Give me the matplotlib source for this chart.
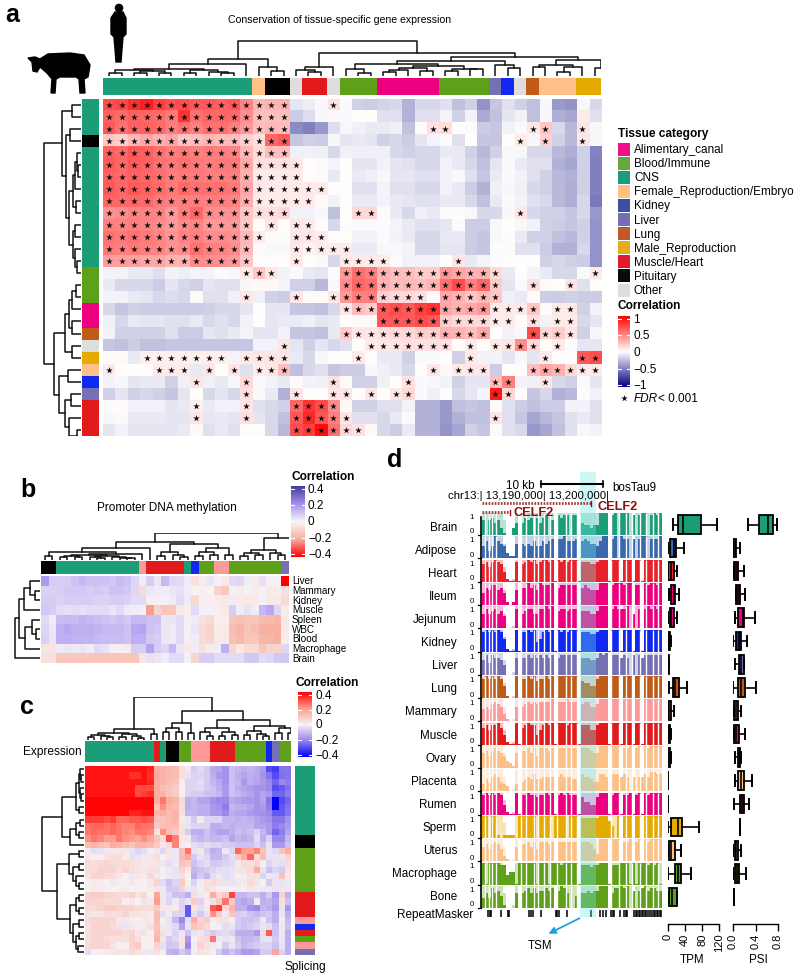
import numpy as np
import matplotlib
matplotlib.use('Agg')
import matplotlib.pyplot as plt
from matplotlib.colors import LinearSegmentedColormap
from matplotlib.patches import Circle, Polygon, Rectangle

plt.rcParams['font.family'] = ['Liberation Sans', 'DejaVu Sans']

W, H = 800, 979

# tissue colours
CNS, BLOOD, PINK, FEM, KID, LIV, LUNG, MALE, MUS, PIT, OTH, MAM = (
    '#1b9e77', '#5fa01a', '#ec0080', '#fdc086', '#1028f0', '#7570b3',
    '#bf5b17', '#e6ab02', '#e31a1c', '#000000', '#dedede', '#fb9a99')

# ---- panel a data (correlation x 100)
a_values = [
 [70,72,82,88,75,68,70,65,65,62,65,48,28,30,30,-10,-7,-3,12,-2,-18,-20,-17,-15,-30,-15,-15,-12,-25,-18,-42,-22,-12,-18,-25,-3,-40,-42,-3,-15],
 [62,58,62,60,58,52,80,55,60,60,58,45,25,25,25,-20,-13,-3,3,-2,1,1,-12,-12,-30,-12,-12,-4,-18,-5,-33,-25,-10,-5,-25,-3,-32,-35,8,-12],
 [65,55,62,62,58,50,55,50,55,55,50,40,25,28,25,-45,-50,-40,-13,-3,-6,-8,-8,-6,-25,2,12,14,1,2,-20,-22,-5,-2,10,22,-15,-28,10,-3],
 [22,18,28,35,30,35,22,25,30,25,25,18,12,60,65,-22,-18,-20,-3,-10,-8,-10,-18,-15,-20,-10,-4,2,-12,1,-22,-22,1,8,-3,18,-18,-28,10,-3],
 [62,58,65,62,55,50,52,50,52,50,48,28,15,25,25,-6,-6,-6,-15,-6,-6,-6,-6,-15,-18,-15,-15,-8,-8,-18,-28,-18,-3,-3,-15,-15,-28,-32,-18,-48],
 [65,60,65,62,55,52,55,52,50,52,52,35,12,12,12,10,1,2,-4,1,-10,-10,-5,-10,-12,-15,-15,-5,-8,-15,-25,-10,-2,-8,-12,-12,-30,-35,-18,-50],
 [62,58,62,60,55,50,52,52,50,50,50,32,8,8,8,8,1,2,-8,1,-8,-6,-3,-10,-10,-12,-12,-5,-3,-12,-22,-8,-2,-5,-12,-18,-28,-30,-18,-50],
 [65,60,65,62,58,52,58,55,55,55,52,35,10,8,8,8,8,8,1,1,-12,-12,-4,-12,-12,-15,-15,-5,-8,-20,-30,-6,-3,-6,-15,-18,-28,-32,-18,-50],
 [60,58,60,58,52,50,50,50,50,50,48,32,8,8,8,8,8,2,-5,1,-8,-8,-5,-8,-10,-12,-12,-8,-8,-15,-25,-8,-2,-5,-12,-15,-28,-32,-15,-52],
 [42,45,48,48,48,40,50,60,45,42,42,22,12,12,15,-5,-5,-3,-25,1,15,15,2,-8,-15,-6,-8,-1,-1,-3,-15,-15,-3,10,-15,-18,-18,-22,-15,-40],
 [50,48,50,48,45,40,45,48,40,40,40,22,1,10,1,10,8,-1,-15,-1,-2,-2,-1,-4,-8,-12,-12,-10,-2,-20,-20,-3,1,-3,-5,-18,-20,-22,-18,-42],
 [55,52,55,52,48,42,48,50,45,45,42,28,8,2,-1,10,10,8,1,1,-5,-5,-2,-5,-8,-15,-15,-8,-8,-20,-22,-3,-1,-8,-18,-18,-25,-28,-18,-42],
 [52,50,52,50,48,42,45,55,50,48,45,28,2,-3,-3,8,5,8,8,8,-8,-8,-3,-3,-4,-15,-15,-10,-10,-20,-22,-1,2,-12,-12,-20,-30,-30,-15,-42],
 [38,38,38,35,35,30,30,45,45,42,40,22,1,1,1,8,1,-2,-15,8,8,8,8,-1,-5,-5,-5,1,10,-8,-4,-1,1,1,1,-18,-15,-18,-20,-42],
 [-5,-5,-8,-8,-13,-5,-7,-4,-4,-2,-3,8,22,10,-5,-2,-8,-10,-1,40,55,50,30,25,25,20,20,40,35,30,30,15,-8,1,-4,-8,-15,-15,-2,8],
 [-8,-15,-15,-15,-20,-10,-15,-18,-10,-12,-12,-3,3,3,-4,-18,-18,-28,-2,45,60,55,30,25,28,25,30,55,70,50,60,20,-10,-2,12,2,1,10,-12,1],
 [-5,-5,-8,-10,-15,-13,-15,2,-12,-12,-6,10,-6,-18,-20,10,2,2,10,40,50,50,18,15,15,12,2,35,30,22,28,22,-6,-8,2,-20,-20,-18,-20,-20],
 [-15,-22,-18,-20,-20,-20,-20,-20,-18,-15,-15,-10,1,-10,-10,-22,-22,-25,-15,10,25,20,65,70,65,75,80,35,30,35,40,8,8,8,22,2,8,8,-18,-5],
 [-6,-15,-8,-10,-10,-12,-12,-8,-15,-12,-15,-5,1,-10,-8,-8,-6,-10,-8,1,2,2,65,65,65,70,65,20,15,15,15,8,8,1,12,-5,8,8,-15,-10],
 [-5,-18,-18,-18,-18,-12,-20,-20,-10,-12,-8,-4,-10,-10,-5,-22,-22,-25,-8,20,10,10,12,15,15,20,18,30,30,25,35,1,-5,-3,70,15,20,10,-18,-3],
 [-22,-25,-20,-25,-25,-22,-22,-22,-22,-22,-22,-22,-4,-4,10,-10,-18,-10,-15,-12,1,8,10,10,12,12,12,12,1,8,1,8,10,45,15,1,8,-1,-10,-10],
 [2,2,-8,6,6,6,6,6,6,6,-4,8,10,10,10,-8,-15,-3,1,1,8,1,-8,-8,-18,-2,-2,1,-18,8,-5,-5,-10,-3,-10,8,1,1,65,70],
 [8,1,1,1,8,8,8,-8,10,1,10,-12,8,10,25,-25,-15,-12,-22,-20,-20,-3,-6,-8,-15,1,10,3,8,10,10,-20,1,1,25,35,30,15,8,8],
 [-5,-3,-10,-8,-8,-18,-6,10,-6,-8,-3,15,-2,-5,-8,2,-5,-6,12,2,-18,-18,-6,1,12,-2,-3,-5,-18,-10,-10,25,50,-5,-6,10,-15,-18,-2,-10],
 [-18,-10,-18,-15,-18,-22,-10,1,-15,-10,-15,12,-2,-8,-30,10,1,1,10,10,1,10,1,10,15,-2,-6,1,-15,-10,-4,90,15,1,-22,-15,-30,-28,-1,-5],
 [-1,2,-5,-5,-5,-10,-8,6,-8,-5,-5,10,-12,-15,-18,60,80,70,45,3,-18,-18,-12,-12,-5,-30,-30,-40,-25,-22,-25,2,-12,-20,-25,-20,-20,-5,-5,-12],
 [-3,-2,-8,-8,-8,-10,-10,10,-10,-8,-10,12,-10,-15,-25,65,85,65,50,10,-12,-12,-15,-8,-2,-30,-30,-40,-30,-25,-25,10,-12,-22,-35,-28,-22,-12,-8,-12],
 [-10,-5,-10,-10,-10,-10,-8,3,-12,-8,-12,1,1,-15,-28,70,75,95,55,15,12,3,-15,-20,-8,-30,-30,-42,-35,-18,-22,2,-12,-15,-40,-35,-25,-12,-3,-5],
]
# columns with a star in each row (1-based)
a_stars = [
 [*range(1,16),19], [*range(1,16)], [*range(1,16),27,28,35,36,39], [*range(1,16),34,36,39],
 [*range(1,16)], [*range(1,17)], [*range(1,17)], [*range(1,19)], [*range(1,18)],
 [*range(1,16),21,22,34], [*range(1,13),14,16,17], [*range(1,14),16,17,18],
 [*range(1,13),16,17,18,19,20], [*range(1,13),16,20,21,22,23,29],
 [12,13,14,*range(20,33),40], [*range(20,33),35,38], [12,16,19,*range(20,27),*range(28,33)],
 [*range(20,36),37,38], [*range(23,34),35,37,38], [*range(20,32),35,36,37,38],
 [15,*range(22,29),30,32,33,34,35,37], [*range(4,11),12,13,14,15,21,30,36,39,40],
 [1,5,6,7,9,11,13,14,15,27,29,30,31,*range(35,41)], [8,12,19,25,32,33,36],
 [12,16,19,20,22,24,25,32,33], [8,12,16,17,18,19], [8,12,16,17,18,19,20,32], [16,17,18,19,20,21],
]
a_col_colors = [CNS]*12 + [FEM] + [PIT]*2 + [OTH] + [MUS]*2 + [OTH] + [BLOOD]*3 + [PINK]*5 + [BLOOD]*4 + \
    [LIV, KID, OTH, LUNG] + [FEM]*3 + [MALE]*2
a_row_colors = [CNS]*3 + [PIT] + [CNS]*10 + [BLOOD]*3 + [PINK]*2 + [LUNG, OTH, MALE, FEM, KID, LIV] + [MUS]*3

L = 0
c11 = (7, (6, (3, L, L), (5, (3, L, L), (3, L, L))), (6, (3, L, L), (4, L, (3, L, L))))
a_top = (35,
         (17, (12, c11, L), (9, L, (5, L, L))),
         (23, (9, (6, L, (4, L, L)), L),
          (19, (15, (12, (7, L, (3, L, L)),
                     (10, (8, (6, (4, L, L), L), (5, L, L)), (7, (5, L, L), (7, L, L)))),
                (11, L, (8, L, L))),
           (16, (11, (9, L, L), (9, (4, L, L), L)), (8, L, L)))))
a_left = (37,
          (19, (9, L, L),
           (15, (11, L, L),
            (12, (8, (6, (4, L, (3, L, L)), L), (5, L, L)), (8, (6, L, L), (6, L, (4, L, L)))))),
          (27, (16, (12, (9, (5, L, L), L), (9, L, L)), (9, L, L)),
           (22, (13, L, L), (16, (10, L, L), (12, L, (4, L, L))))))
legend_names = ['Alimentary_canal', 'Blood/Immune', 'CNS', 'Female_Reproduction/Embryo', 'Kidney', 'Liver',
                'Lung', 'Male_Reproduction', 'Muscle/Heart', 'Pituitary', 'Other']
legend_colors = ['#ee1084', '#66a83a', CNS, FEM, '#3b4fa0', LIV, '#bf5b2a', '#e6ab1e', '#e31a2c', '#0a0a0a', OTH]

# ---- panel b data
b_tissues = ['Liver', 'Mammary', 'Kidney', 'Muscle', 'Spleen', 'WBC', 'Blood', 'Macrophage', 'Brain']
b_values = [
 [18,8,8,8,10,12,10,10,10,9,11,10,6,2,8,3,12,6,5,2,-6,-3,3,1,-4,5,6,2,-3,4,1,1,-45],
 [7,7,8,9,9,9,8,9,8,10,10,9,6,-8,3,2,2,3,4,2,-1,-2,-1,-10,-13,1,-3,1,-3,1,-3,-3,-6],
 [8,8,7,8,8,8,8,7,7,8,8,7,5,5,-2,-2,1,2,5,2,-8,-2,-2,-3,-4,2,-3,-4,-4,1,-4,-4,-8],
 [9,8,5,4,5,4,5,5,5,3,5,2,2,1,-22,-10,-14,-13,-4,-2,5,1,1,-2,-4,8,2,4,2,12,15,6,-3],
 [5,2,11,12,11,13,12,11,10,9,10,9,12,12,10,10,3,3,5,1,2,-6,-8,-2,-2,-14,-15,-14,-14,-17,-17,-18,-4],
 [6,3,14,15,14,14,14,13,12,12,12,10,15,16,10,9,3,2,5,1,3,-8,-10,-3,-3,-16,-18,-14,-16,-20,-20,-20,-4],
 [7,3,14,14,13,13,13,12,11,11,11,10,14,14,9,8,3,2,5,1,2,-8,-9,-4,-4,-15,-17,-14,-14,-18,-18,-20,-3],
 [-5,-5,2,3,2,3,2,5,4,-2,-2,-3,8,8,16,8,6,12,3,-4,2,-6,-3,2,14,-9,-4,-8,-8,-14,-10,-10,6],
 [-6,-6,-13,-13,-13,-13,-13,-14,-14,-14,-14,-14,-14,-5,4,3,2,5,5,1,-9,8,8,5,5,5,5,9,9,5,6,9,9],
]
b_col_colors = [PIT]*2 + [CNS]*11 + [MAM] + [MUS]*5 + [CNS, KID] + [BLOOD]*2 + [MAM]*2 + [BLOOD]*7 + [LIV]
c11b = (5, (4, (3, L, L), (3, L, L)), (4, (3, L, (2, L, L)), (3, L, (2, L, (2, L, L)))))
b_top = (27,
         (18, (12, (8, (4, L, L), (6, c11b, L)), L),
          (16, (8, (4, L, L), (5, L, (3, L, L))), (12, (8, (4, L, L), (5, L, L)), (5, L, L)))),
         (22, (10, (7, (4, L, L), (5, L, L)), (7, L, (5, L, L))), L))
b_left = (25, (21, (16, (10, L, (5, L, L)), L), (15, (8, L, (4, L, L)), L)), L)

# ---- panel c data
c_values = [
 [42,42,42,42,42,42,42,42,42,42,40,18,16,15,14,5,-2,-8,-5,-8,-15,-16,-20,-10,-12,-14,-13,-15,-18,-32,-35,-25,-25],
 [42,42,42,42,42,42,42,38,38,42,38,20,16,15,14,5,-3,-6,-6,-8,-14,-18,-20,-10,-14,-16,-14,-15,-20,-25,-32,-26,-25],
 [42,42,42,42,42,42,42,42,42,42,40,18,16,14,12,1,-6,-6,-4,-8,-12,-15,-20,-10,-12,-18,-14,-16,-18,-22,-28,-22,-24],
 [42,42,42,42,42,42,42,42,34,34,34,18,14,12,10,1,-6,-6,-5,-8,-10,-14,-18,-10,-14,-16,-18,-20,-20,-22,-32,-30,-26],
 [42,42,42,42,42,42,42,42,34,36,38,18,16,12,10,1,-6,-8,-8,-10,-10,-12,-18,-10,-12,-14,-16,-20,-16,-18,-28,-28,-24],
 [44,44,44,44,44,44,44,44,44,44,44,18,28,18,16,6,-14,-12,-16,-16,-20,-22,-22,-15,-16,-18,-18,-20,-16,-25,-50,-32,-28],
 [44,44,44,44,44,44,44,44,44,44,44,12,24,16,14,5,-14,-12,-14,-14,-18,-20,-24,-12,-14,-14,-16,-20,-18,-24,-50,-30,-26],
 [44,44,44,44,44,44,44,40,40,42,42,16,18,14,16,4,-12,-12,-14,-14,-18,-18,-22,-14,-16,-16,-18,-20,-20,-22,-30,-30,-25],
 [36,36,36,34,36,30,30,32,32,34,32,12,12,14,16,2,-3,-8,2,-6,-6,-6,-12,-12,-14,-12,-14,-16,-18,-20,-25,-25,-20],
 [28,30,30,28,30,28,26,26,30,28,28,10,14,14,14,4,-3,-6,-6,-6,-14,-14,-12,-14,-12,-12,-12,-16,-16,-18,-24,-22,-18],
 [28,30,28,28,30,28,26,24,28,28,26,3,24,14,10,4,-8,-14,-14,-10,-14,-16,-16,-14,-10,-12,-10,-6,-12,-18,-28,-24,-16],
 [24,28,26,22,22,28,24,22,20,24,20,12,6,34,26,3,-2,-10,-12,-10,-12,-12,-10,-16,-12,-14,-12,-4,-14,-6,-22,-22,-12],
 [14,16,14,12,18,16,14,12,16,16,14,10,3,6,26,2,1,-4,-6,-4,-6,-6,-8,-8,-10,-10,-10,-6,-10,-3,-18,-18,-10],
 [2,-4,-3,-2,3,3,3,-3,-6,-4,1,3,-5,3,-2,14,28,-3,3,-8,-14,-12,-2,-6,30,22,20,26,12,-3,-5,12,18],
 [3,1,1,4,5,6,2,-4,-3,3,3,5,1,3,-2,15,20,-8,-3,-5,-12,-12,-8,-4,10,18,30,6,14,-3,-3,4,8],
 [6,5,7,8,6,6,6,5,4,2,3,3,-2,-4,-2,12,10,-10,-6,-4,-9,-8,-6,-5,3,6,5,8,-1,-6,-3,-4,6],
 [6,6,8,8,8,5,8,5,4,3,4,5,1,-2,-3,8,3,-12,-10,-8,-6,-4,-4,-3,4,4,6,18,-3,-10,-6,-8,4],
 [4,8,8,6,5,3,1,-2,3,2,7,3,1,-2,-3,5,0,-14,-8,-12,-4,-2,-4,-3,1,2,4,4,-6,-2,-3,12,2],
 [1,2,2,1,-2,2,1,3,1,0,3,8,-4,-10,-6,10,1,-6,-1,4,6,4,-3,-3,-2,2,6,3,0,-8,-3,-3,-2],
 [1,2,2,1,0,1,2,0,1,1,2,3,-2,-8,-8,8,-2,-3,-1,5,3,1,-1,0,-1,1,3,-1,-2,-2,-3,-2,-2],
 [8,10,10,8,8,6,6,8,4,6,1,20,3,-5,-10,-10,-14,5,-2,2,18,6,10,35,-12,-12,-10,-10,-14,-8,-18,8,-14],
 [8,8,8,6,6,6,1,3,0,4,-2,22,3,-6,-2,-6,-3,10,-6,2,4,10,28,10,-14,-16,-14,-1,-14,-12,-16,5,-10],
 [6,6,8,10,10,8,8,8,6,6,6,10,3,3,2,-6,-30,4,-4,-2,32,36,6,16,-14,-14,-20,-22,-12,-14,-18,-3,-18],
 [4,3,3,6,5,5,8,4,4,3,2,14,-4,-1,-6,-6,-30,-4,-8,-3,24,10,-2,12,-8,-6,-10,-12,-10,-8,-14,-3,-14],
 [6,8,8,8,8,3,-2,2,1,2,2,14,1,-3,-12,-22,-4,18,8,10,-1,4,4,1,-8,-10,-10,-8,3,-10,-14,2,-12],
 [4,8,8,8,6,4,-3,3,2,2,5,12,3,-3,-5,-16,-3,12,10,6,0,-1,-4,-3,-8,-10,-8,-6,-3,-4,-10,-2,-10],
 [5,8,8,8,8,8,6,8,3,4,1,14,5,-2,-6,-2,-10,-3,3,-5,-8,-5,-4,-6,-14,-14,-14,-18,-4,32,-10,3,-14],
 [5,8,8,6,5,5,5,8,5,1,1,16,4,-8,-5,4,-18,1,5,6,28,-2,-3,3,-10,-12,-12,-10,-3,-3,-8,-3,-14],
 [6,8,8,8,4,1,1,8,10,1,1,8,-4,-9,-8,4,-22,-1,8,4,-2,-1,-8,-3,-8,-12,-10,-8,-6,-6,-10,-3,-14],
 [-4,1,1,2,3,4,3,6,4,-2,-2,5,2,-12,-14,-8,-12,2,4,3,1,-8,-14,-10,-14,-18,-18,-16,-8,-8,20,-6,-14],
]
c_col_colors = [CNS]*11 + [MUS, CNS] + [PIT]*2 + [BLOOD]*2 + [MAM]*3 + [MUS]*4 + [BLOOD]*5 + [KID, LIV] + [BLOOD]*2
c_row_colors = [CNS]*11 + [PIT]*2 + [BLOOD]*7 + [MUS]*4 + [MAM, KID, MUS, BLOOD, MAM, LIV]
c_top = (43, (11, (7, (5, (3, L, L), (4, L, (3, L, L))), (6, (3, L, L), (4, L, (2, L, L)))), (6, L, L)),
         (29, (17, (12, (8, L, L), (8, L, L)), (7, L, L)),
          (20, (12, (8, L, (4, L, L)), (8, (4, L, L), (5, L, L))),
           (14, (9, (5, L, L), (6, L, (4, L, L))), (12, (7, L, L), (7, L, L))))))
c_left = (42,
          (22, (8, (5, (4, L, (3, L, L)), (4, L, (3, L, L))), (5, L, L)), (14, (8, (4, L, L), (5, L, L)), L)),
          (27, (15, (5, L, L), (11, (5, L, L), (8, L, (5, L, L)))),
           (14, (8, (5, L, L), (5, L, L)), (11, (5, L, L), (8, (5, L, L), (6, L, L))))))

# ---- panel d data: coverage per bin, digit = tenth of the 0-1 scale
tissues = ['Brain', 'Adipose', 'Heart', 'Ileum', 'Jejunum', 'Kidney', 'Liver', 'Lung', 'Mammary', 'Muscle',
           'Ovary', 'Placenta', 'Rumen', 'Sperm', 'Uterus', 'Macrophage', 'Bone']
track_colors = [CNS, '#3a68ae', '#e8202a', PINK, PINK, '#1028f0', LIV, LUNG, MAM, MUS, FEM, FEM, PINK, MALE, FEM,
                BLOOD, BLOOD]
coverage = [
 "6067563100" "3505767075" "7806087880" "8805443449" "9908909990" "8089908989",
 "5735976521" "1606565755" "7678088977" "7807876657" "9908909880" "8089908889",
 "7868987410" "0807898978" "9989098989" "9908887789" "9909990999" "0990999999",
 "5768867510" "1607797869" "8889078888" "8807876669" "9908999899" "0880989989",
 "6867867500" "0806788668" "8989078878" "8807776679" "9908988890" "6080898989",
 "8989898510" "0908898945" "8989098989" "9908887789" "9909990999" "0990999999",
 "6858776400" "0707787878" "7878078888" "8807776679" "8908887870" "8087888888",
 "8989898510" "0908898978" "8989099999" "9907665589" "9909990999" "0990999999",
 "5657876310" "0606787878" "8889088898" "8807886679" "9909990999" "0990999999",
 "7868897410" "0907898846" "8989099989" "9908886689" "9909990999" "0990999999",
 "6757876532" "1607786858" "8878088888" "8808887669" "9909990889" "0890989999",
 "3546764320" "0304565755" "6666067666" "5507665447" "7607776760" "6066768877",
 "8989898410" "0908898878" "8989089898" "8807554479" "9908990889" "0890989999",
 "9909910111" "1099999909" "9990999909" "9908888889" "9975090999" "0990999999",
 "6757875210" "0607786858" "8878088888" "8808887539" "9909990889" "0890989999",
 "9099998845" "5099999909" "9909998999" "9908887889" "9908889990" "9099989890",
 "4648675100" "0606786867" "7878079860" "0506676779" "9906889890" "7078978877",
]
envelope = "9999999600" "1909999999" "9999099999" "9909999999" "9909990999" "0990999999"
gap_bins = [0.6, 1.9, 3.1, 4.4, 12.5, 14.4, 17.1, 18.3, 20.4, 22.4, 24.6, 27.5, 29.4, 31.1, 42.4, 45.2, 47.5,
            49.6, 52.3, 54.1, 56.4, 58.1]
repeat_bins = [1.7, 2.2, 2.7, 5.9, 8.3, 8.8, 15.2, 15.9, 16.6, 19.2, 24.2, 24.7, 25.2, 28, 35.8, 38.9, 39.8, 40.8,
               42.7, 43.2, 43.7, 45.4, 46.9, 47.4, 47.9, 50.2, 50.7, 51.3, 51.8, 52.3, 52.8, 53.3, 53.8, 54.3,
               54.8, 55.5, 56.2, 56.7, 57.3, 57.8, 58.3, 58.8, 59.3]
# whisker low, q1, median, q3, whisker high
tpm_stats = [(12, 24, 35, 78, 115), (0, 5, 13, 19, 37), (0, 0, 8, 13, 21), (2, 8, 13, 17, 27), (0, 4, 8, 14, 21),
             (0, 0, 2, 4, 8), (0, 0, 1, 2, 2), (2, 11, 16, 25, 44), (0, 0, 3, 7, 13), (0, 0, 2, 5, 8), (0, 0, 2, 4, 8),
             (0, 0, 1, 1, 1), (0, 0, 1, 1, 1), (0, 8, 23, 34, 72), (0, 3, 8, 16, 31), (0, 16, 23, 31, 55),
             (2, 2, 9, 20, 20)]
psi_stats = [(.27, .46, .62, .71, .79), (0, 0, .03, .06, .12), (.02, .02, .05, .09, .2), (.05, .05, .08, .12, .21),
             (.03, .08, .17, .2, .39), (0, .06, .1, .14, .24), (.03, .11, .15, .2, .2), (0, .08, .14, .22, .4),
             (.02, .02, .05, .09, .15), (.02, .02, .06, .11, .21), (.03, .08, .1, .12, .15), (.03, .09, .14, .2, .34),
             (.01, .12, .16, .2, .28), (.12, .12, .12, .12, .12), (0, .03, .05, .08, .15), (0, .03, .07, .11, .23),
             (.02, .02, .02, .02, .02)]
tpm_ticks = [0, 40, 80, 120]
psi_ticks = [0, 0.4, 0.8]

a_cmap = LinearSegmentedColormap.from_list('a', ['#000080', '#ffffff', '#ff0000'])
b_cmap = LinearSegmentedColormap.from_list('b', ['#ff0000', '#f8b0a0', '#f8f6f8', '#a78ff0', '#3f3f9a'])
c_cmap = LinearSegmentedColormap.from_list('c', ['#0000ff', '#9a86ea', '#f6f2f6', '#ff9c8c', '#ff0000'])


def axes_px(x0, y0, x1, y1, **kw):
    return fig.add_axes([x0 / W, 1 - y1 / H, (x1 - x0) / W, (y1 - y0) / H], **kw)


def draw_tree(ax, node, pos, horizontal):
    # node = (height, left, right), leaf = 0; returns centre, height, next free position
    if node == 0:
        return pos, 0, pos + 1
    h, left, right = node
    c1, h1, pos = draw_tree(ax, left, pos, horizontal)
    c2, h2, pos = draw_tree(ax, right, pos, horizontal)
    xs, ys = [c1, c1, c2, c2], [h1, h, h, h2]
    if horizontal:
        xs, ys = ys, xs
    ax.plot(xs, ys, color='#111111', lw=1.1, solid_capstyle='projecting')
    return (c1 + c2) / 2, h, pos


def tree_axes(tree, n, box, horizontal=False):
    ax = axes_px(*box)
    draw_tree(ax, tree, 0, horizontal)
    if horizontal:
        ax.set_xlim(box[2] - box[0], 0)
        ax.set_ylim(n - 0.5, -0.5)
    else:
        ax.set_xlim(-0.5, n - 0.5)
        ax.set_ylim(0, box[3] - box[1])
    ax.axis('off')
    return ax


def strip(colors, box, vertical=False):
    ax = axes_px(*box)
    if vertical:
        ax.barh(range(len(colors)), 1, height=1, color=colors)
        ax.set_ylim(len(colors) - 0.5, -0.5)
        ax.set_xlim(0, 1)
    else:
        ax.bar(range(len(colors)), 1, width=1, color=colors)
        ax.set_xlim(-0.5, len(colors) - 0.5)
        ax.set_ylim(0, 1)
    ax.axis('off')


def heat(values, cmap, lim, box):
    ax = axes_px(*box)
    ax.imshow(np.array(values) / 100, cmap=cmap, vmin=-lim, vmax=lim, aspect='auto', interpolation='nearest')
    ax.axis('off')
    return ax


def colorbar(cmap, box, ticks, labels, fs):
    ax = axes_px(*box)
    ax.imshow(np.linspace(1, 0, 128)[:, None], cmap=cmap, vmin=0, vmax=1, aspect='auto')
    ax.axis('off')
    for y, lab in zip(ticks, labels):
        ov.plot([box[0], box[0] + 3], [y, y], color='white', lw=0.8)
        ov.plot([box[2] - 3, box[2]], [y, y], color='white', lw=0.8)
        ov.text(box[2] + 3, y, lab, fontsize=fs, va='center', ha='left')


fig = plt.figure(figsize=(W / 100, H / 100), dpi=100)
ov = fig.add_axes([0, 0, 1, 1], zorder=20)
ov.set_xlim(0, W)
ov.set_ylim(H, 0)
ov.axis('off')

# ---- a
ax = heat(a_values, a_cmap, 1, (103, 99.5, 601, 437))
for r, cols in enumerate(a_stars):
    ax.scatter(np.array(cols) - 1, [r] * len(cols), marker='*', s=25, color='#111111', linewidths=0)
ax.set_xlim(-0.5, 39.5)
ax.set_ylim(27.5, -0.5)
strip(a_col_colors, (103, 79, 601, 96))
strip(a_row_colors, (82, 99.5, 99, 437), vertical=True)
tree_axes(a_top, 40, (103, 40, 601, 77))
tree_axes(a_left, 28, (42, 99.5, 81, 437), horizontal=True)
ov.text(340, 20, 'Conservation of tissue-specific gene expression', fontsize=7.6, ha='center', va='center')
ov.text(618, 134, 'Tissue category', fontsize=8.6, fontweight='bold', va='center')
for i, (name, col) in enumerate(zip(legend_names, legend_colors)):
    y = 143.5 + 14.1 * i
    ov.add_patch(Rectangle((618, y), 12, 13, color=col, lw=0))
    ov.text(634, y + 6.5, name, fontsize=8.5, va='center')
ov.text(618, 306.5, 'Correlation', fontsize=8.6, fontweight='bold', va='center')
colorbar(a_cmap, (618, 317, 630, 388), [320, 336, 353, 370, 386], ['1', '0.5', '0', '\u22120.5', '\u22121'], 8.5)
ov.scatter([624], [399], marker='*', s=25, color='#111111', linewidths=0)
ov.text(634, 399, 'FDR', fontsize=8.5, va='center', style='italic')
ov.text(658, 399, '< 0.001', fontsize=8.5, va='center')
# silhouettes
ov.add_patch(Circle((119, 9), 3.6, color='black'))
ov.add_patch(Polygon([(115, 13), (123, 13), (126, 19), (126, 35), (123, 38), (122, 50), (121, 63), (116, 63),
                      (115, 50), (114, 38), (111, 35), (111, 19)], color='black'))
ov.add_patch(Polygon([(28, 59), (35, 58), (40, 60), (48, 55), (70, 54), (84, 56), (90, 66), (88, 78), (84, 80),
                      (85, 94), (80, 94), (79, 80), (76, 78), (60, 78), (56, 80), (55, 94), (51, 94), (52, 80),
                      (47, 74), (40, 68), (37, 73), (33, 72), (32, 63)], color='black'))

# ---- b
heat(b_values, b_cmap, 0.4, (41, 577, 289, 664))
strip(b_col_colors, (41, 562, 289, 575))
tree_axes(b_top, 33, (41, 534, 289, 561))
tree_axes(b_left, 9, (14, 577, 40, 664), horizontal=True)
for i, name in enumerate(b_tissues):
    ov.text(292, 581.5 + 9.65 * i, name, fontsize=7.1, va='center')
ov.text(167, 507.5, 'Promoter DNA methylation', fontsize=8.5, ha='center', va='center')
ov.text(291, 477, 'Correlation', fontsize=8.6, fontweight='bold', va='center')
colorbar(b_cmap, (291, 487, 305, 558), [490, 506, 522, 539, 555], ['0.4', '0.2', '0', '\u22120.2', '\u22120.4'], 8.5)

# ---- c
heat(c_values, c_cmap, 0.45, (85, 767, 291, 956))
strip(c_col_colors, (85, 742, 291, 763))
strip(c_row_colors, (295, 767, 315, 956), vertical=True)
tree_axes(c_top, 33, (85, 698, 291, 741))
tree_axes(c_left, 30, (41, 767, 84, 956), horizontal=True)
ov.text(82, 752, 'Expression', fontsize=8.6, ha='right', va='center')
ov.text(305, 967, 'Splicing', fontsize=8.6, ha='center', va='center')
ov.text(296, 683, 'Correlation', fontsize=8.6, fontweight='bold', va='center')
colorbar(c_cmap, (298, 693, 312, 758), [696, 711, 725, 741, 756], ['0.4', '0.2', '0', '\u22120.2', '\u22120.4'], 8.5)

# ---- d tracks
env = np.array([int(ch) for ch in envelope]) / 9
for i, (name, cov, col) in enumerate(zip(tissues, coverage, track_colors)):
    base = 536 + 23.3 * i
    ax = axes_px(481.5, base - 22, 662, base)
    ax.patch.set_alpha(0)
    vals = np.array([int(ch) for ch in cov]) / 9
    ax.bar(np.arange(60), np.maximum(env, vals), width=1, color=col, alpha=0.3, lw=0)
    ax.bar(np.arange(60), vals, width=1, color=col, lw=0)
    ax.axhline(0.01, color=col, lw=0.8)
    ax.vlines(gap_bins, 0, 1, color='white', lw=1)
    ax.set_xlim(-0.5, 59.5)
    ax.set_ylim(0, 1)
    ax.axis('off')
    ov.text(457, 528 + 23.06 * i, name, fontsize=8.4, ha='right', va='center')
    ov.text(474, base - 4, '0', fontsize=5.6, ha='right', va='center')
    ov.text(474, base - 18.5, '1', fontsize=5.6, ha='right', va='center')
    ov.plot([477.5, 481], [base, base], color='black', lw=0.9)
ov.plot([481, 481], [518, 909], color='black', lw=1.2)
ax = axes_px(481.5, 911, 662, 918)
ax.vlines(repeat_bins, 0, 1, color='black', lw=1.1)
ax.set_xlim(-0.5, 59.5)
ax.set_ylim(0, 1)
ax.axis('off')
ov.add_patch(Rectangle((580, 473), 16, 445, color='#70e8e8', alpha=0.35, lw=0))
ov.text(473, 915, 'RepeatMasker', fontsize=8.5, ha='right', va='center')
ov.annotate('', xy=(546, 936), xytext=(582, 918), arrowprops=dict(arrowstyle='-|>', color='#1fa0dc', lw=1.3))
ov.text(540, 946, 'TSM', fontsize=8.4, ha='center', va='center')
ov.text(535, 486, '10 kb', fontsize=8.4, ha='right', va='center')
ov.plot([541, 603], [485, 485], color='black', lw=1.5)
ov.plot([541, 541], [482, 488], color='black', lw=1.2)
ov.plot([603, 603], [482, 488], color='black', lw=1.2)
ov.text(612, 488, 'bosTau9', fontsize=8.4, va='center')
ov.text(447.5, 496, 'chr13:| 13,190,000| 13,200,000|', fontsize=8.2, va='center')
for x1, y in [(591, 504), (510, 513)]:
    ov.plot([482, x1], [y, y], color='#a03a3a', lw=2, ls=(0, (0.6, 0.5)))
    ov.plot([x1, x1], [y - 2.5, y + 2.5], color='#8b1010', lw=1)
ov.text(597, 507, 'CELF2', fontsize=9.2, fontweight='bold', color='#8b1010', va='center')
ov.text(513.5, 513.5, 'CELF2', fontsize=9.2, fontweight='bold', color='#8b1010', va='center')

# ---- d box plots
for stats, box, xlim, ticks, fmt, label, lx in [
        (tpm_stats, (668, 514, 719, 909.6), (0, 120), tpm_ticks, '{:d}', 'TPM', 692),
        (psi_stats, (733, 514, 778, 909.6), (0, 0.8), psi_ticks, '{:.1f}', 'PSI', 758)]:
    ax = axes_px(*box)
    ax.patch.set_alpha(0)
    rows = [dict(whislo=s[0], q1=s[1], med=s[2], q3=s[3], whishi=s[4], fliers=[]) for s in stats]
    bp = ax.bxp(rows, positions=range(17), orientation='horizontal', widths=0.8, capwidths=0.45, patch_artist=True,
                showfliers=False, boxprops=dict(lw=1.3), medianprops=dict(color='black', lw=1.2),
                whiskerprops=dict(lw=1.2), capprops=dict(lw=1.4))
    for patch, col in zip(bp['boxes'], track_colors):
        patch.set_facecolor(col)
    ax.set_xlim(*xlim)
    ax.set_ylim(16.5, -0.5)
    for side in ['top', 'left', 'right']:
        ax.spines[side].set_visible(False)
    ax.spines['bottom'].set_position(('outward', 11))
    ax.spines['bottom'].set_linewidth(1)
    ax.set_yticks([])
    ax.set_xticks(ticks)
    ax.set_xticklabels([fmt.format(t) for t in ticks], rotation=90, fontsize=8)
    ax.tick_params(axis='x', length=4.7, width=1, pad=1.5)
    ov.text(lx, 960, label, fontsize=8.4, ha='center', va='center')

# panel letters
for letter, x, y in [('a', 5, 15), ('b', 20, 490), ('c', 20, 707), ('d', 387, 460)]:
    ov.text(x, y, letter, fontsize=18, fontweight='bold', va='center')

fig.savefig('out.png', dpi=100)
